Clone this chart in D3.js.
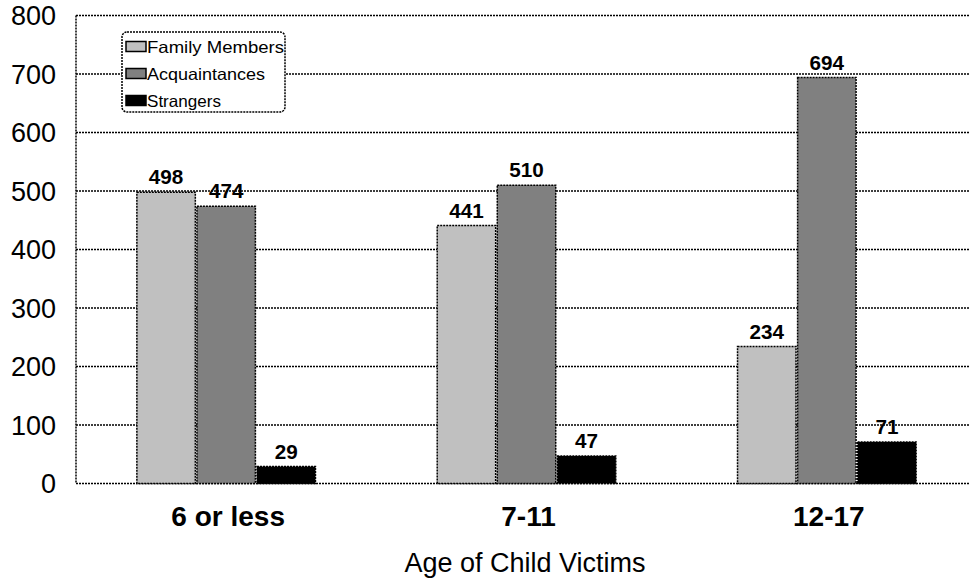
<!DOCTYPE html>
<html>
<head>
<meta charset="utf-8">
<script src="https://cdn.jsdelivr.net/npm/d3@7"></script>
<style>
  body { margin: 0; background: #fff; }
  svg { display: block; font-family: "Liberation Sans", Arial, sans-serif; }
</style>
</head>
<body>
<div id="chart"></div>
<script>
// chart data
const categories = ["6 or less", "7-11", "12-17"];
const seriesNames = ["Family Members", "Acquaintances", "Strangers"];
const familyValues = [498, 441, 234];
const acquaintanceValues = [474, 510, 694];
const strangerValues = [29, 47, 71];
const yTicks = [0, 100, 200, 300, 400, 500, 600, 700, 800];
const colors = ["#c0c0c0", "#808080", "#000000"];

const width = 969, height = 582;
const margin = { top: 15.5, right: -8, bottom: 98.5, left: 76 };

const seriesValues = [familyValues, acquaintanceValues, strangerValues];
const data = categories.map((c, i) => ({
  category: c,
  values: seriesNames.map((s, j) => ({ series: s, value: seriesValues[j][i] }))
}));

const svg = d3.select("#chart").append("svg")
  .attr("width", width)
  .attr("height", height);

// group scale across the categories, then one band per series inside each
const x0 = d3.scaleBand()
  .domain(categories)
  .range([margin.left, width - margin.right])
  .padding(0);

const x1 = d3.scaleBand()
  .domain(seriesNames)
  .range([x0.bandwidth() * 0.2, x0.bandwidth() * 0.8])
  .padding(0);

const y = d3.scaleLinear()
  .domain([0, 800])
  .range([height - margin.bottom, margin.top]);

const color = d3.scaleOrdinal().domain(seriesNames).range(colors);

const dotted = "2,1";

// gridlines (dotted), the 800 line doubles as the top border
svg.append("g")
  .selectAll("line")
  .data(yTicks)
  .join("line")
  .attr("x1", margin.left)
  .attr("x2", width)
  .attr("y1", d => y(d))
  .attr("y2", d => y(d))
  .attr("stroke", "#000")
  .attr("stroke-width", 1.5)
  .attr("stroke-dasharray", dotted);

// left axis line
svg.append("line")
  .attr("x1", margin.left).attr("x2", margin.left)
  .attr("y1", y(800)).attr("y2", y(0))
  .attr("stroke", "#000")
  .attr("stroke-width", 1.5)
  .attr("stroke-dasharray", dotted);

// y tick labels
svg.append("g")
  .selectAll("text")
  .data(yTicks)
  .join("text")
  .attr("x", 56)
  .attr("y", d => y(d))
  .attr("dy", "0.36em")
  .attr("text-anchor", "end")
  .attr("font-size", 27)
  .text(d => d);

// bars
const groups = svg.append("g")
  .selectAll("g")
  .data(data)
  .join("g")
  .attr("transform", d => `translate(${x0(d.category)},0)`);

groups.selectAll("rect")
  .data(d => d.values)
  .join("rect")
  .attr("x", d => x1(d.series) + 0.8)
  .attr("y", d => y(d.value))
  .attr("width", x1.bandwidth() - 1.6)
  .attr("height", d => y(0) - y(d.value))
  .attr("fill", d => color(d.series))
  .attr("stroke", "#000")
  .attr("stroke-width", 1.5)
  .attr("stroke-dasharray", dotted);

// value labels
groups.selectAll("text")
  .data(d => d.values)
  .join("text")
  .attr("x", d => x1(d.series) + x1.bandwidth() / 2)
  .attr("y", d => y(d.value) - 8)
  .attr("text-anchor", "middle")
  .attr("font-size", 20)
  .attr("font-weight", "bold")
  .attr("textLength", d => String(d.value).length * 11.5)
  .attr("lengthAdjust", "spacingAndGlyphs")
  .text(d => d.value);

// category labels
svg.append("g")
  .selectAll("text")
  .data(categories)
  .join("text")
  .attr("x", d => x0(d) + x0.bandwidth() / 2 + 2)
  .attr("y", 526)
  .attr("text-anchor", "middle")
  .attr("font-size", 28)
  .attr("font-weight", "bold")
  .text(d => d);

// axis title
svg.append("text")
  .attr("x", 525)
  .attr("y", 571.5)
  .attr("text-anchor", "middle")
  .attr("font-size", 27)
  .text("Age of Child Victims");

// legend
const legend = svg.append("g").attr("transform", "translate(122,32)");
legend.append("rect")
  .attr("width", 163)
  .attr("height", 80)
  .attr("rx", 5)
  .attr("fill", "#fff")
  .attr("stroke", "#000")
  .attr("stroke-width", 1.5)
  .attr("stroke-dasharray", dotted);

const items = legend.selectAll("g.item")
  .data(seriesNames)
  .join("g")
  .attr("class", "item")
  .attr("transform", (d, i) => `translate(4,${9.5 + i * 27})`);

items.append("rect")
  .attr("width", 20)
  .attr("height", 10)
  .attr("fill", d => color(d))
  .attr("stroke", "#000")
  .attr("stroke-width", 1.5);

items.append("text")
  .attr("x", 21)
  .attr("y", 11)
  .attr("font-size", 16.5)
  .attr("textLength", d => d === "Family Members" ? 137 : d === "Acquaintances" ? 118 : 74)
  .attr("lengthAdjust", "spacingAndGlyphs")
  .text(d => d);
</script>
</body>
</html>
